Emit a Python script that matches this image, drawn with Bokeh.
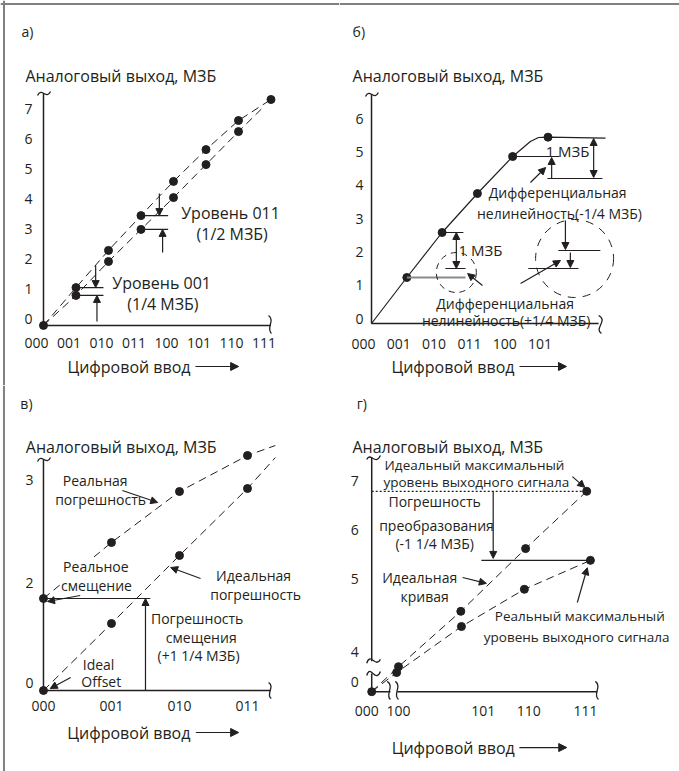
from bokeh.plotting import figure
from bokeh.models import Range1d, FixedTicker, Label, Arrow, NormalHead, ColumnDataSource, Span
from bokeh.transform import dodge
from bokeh.layouts import gridplot
from bokeh.embed import file_html
from bokeh.resources import INLINE

# ---------------- data ----------------
# panel a) - gain error
a_codes = [0, 1, 2, 3, 4, 5, 6, 7]
a_upper_y = [-0.23, 1.03, 2.27, 3.43, 4.57, 5.63, 6.6, 7.3]
a_lower_codes = [0, 1, 2, 3, 4, 5, 6, 6.75]
a_lower_y = [-0.23, 0.77, 1.9, 2.97, 4.03, 5.13, 6.23, 7.03]
a_xticks = [0, 1, 2, 3, 4, 5, 6, 7]
a_xlabels = ["000", "001", "010", "011", "100", "101", "110", "111"]
a_yticks = [0, 1, 2, 3, 4, 5, 6, 7]
a_ylabels = ["0", "1", "2", "3", "4", "5", "6", "7"]

# panel б) - differential nonlinearity
b_codes = [0, 1, 2, 3, 4, 5]
b_y = [-0.15, 1.23, 2.58, 3.75, 4.86, 5.44]
b_curve_codes = [0, 1, 2, 3, 4, 4.5, 4.73, 5, 6.63]
b_curve_y = [-0.15, 1.23, 2.58, 3.75, 4.86, 5.31, 5.43, 5.44, 5.41]
b_xticks = [0, 1, 2, 3, 4, 5]
b_xlabels = ["000", "001", "010", "011", "100", "101"]
b_yticks = [0, 1, 2, 3, 4, 5, 6]
b_ylabels = ["0", "1", "2", "3", "4", "5", "6"]

# panel в) - offset error
c_codes = [0, 1, 2, 3]
c_ideal_y = [-0.16, 1.18, 2.54, 3.88]
c_real_y = [1.68, 2.8, 3.82, 4.54]
c_line_codes = [0, 1, 2, 3, 3.41]
c_ideal_line_y = [-0.16, 1.18, 2.54, 3.88, 4.5]
c_real_line_y = [1.68, 2.8, 3.82, 4.54, 4.74]
c_xticks = [0, 1, 2, 3]
c_xlabels = ["000", "001", "010", "011"]
c_yticks = [0, 2, 4.06]
c_ylabels = ["0", "2", "3"]

# panel г) - full-scale error (broken axes)
d_ideal_x = [3.57, 4.0, 5.0, 6.04, 7.02]
d_ideal_y = [2.69, 3.2, 4.33, 5.61, 6.78]
d_real_x = [3.57, 3.97, 5.01, 6.02, 7.08]
d_real_y = [2.69, 3.08, 4.02, 4.78, 5.37]
d_xticks = [3.49, 4.0, 5.36, 6.09, 7.0]
d_xlabels = ["000", "100", "101", "110", "111"]
d_yticks = [2.88, 3.49, 5, 6, 7]
d_ylabels = ["0", "4", "5", "6", "7"]

# ---------------- styling ----------------
INK = "#231f20"
GRAY = "#8a8a8a"
FRAME = "#808080"
FONT = "Open Sans"
A_DX = 0.215   # offset of the drawn grid from the tick labels (panel a)
B_DX = 0.227   # same for panel б
DASH = "8 5"


def make_fig(width, height, xr, yr, xt, xl, yt, yl, xaxis_at, yaxis_at, xs, ys):
    p = figure(width=width, height=height, x_range=Range1d(*xr), y_range=Range1d(*yr),
               min_border=0, min_border_left=0, min_border_right=0,
               min_border_top=0, min_border_bottom=0,
               output_backend="svg", toolbar_location=None, title=None)
    p.grid.visible = False
    p.outline_line_color = None
    p.background_fill_color = "white"
    p.border_fill_color = "white"
    for ax, ticks, labels, standoff, loc in ((p.xaxis[0], xt, xl, xs, xaxis_at),
                                             (p.yaxis[0], yt, yl, ys, yaxis_at)):
        ax.fixed_location = loc
        ax.ticker = FixedTicker(ticks=list(ticks))
        ax.major_label_overrides = {t: l for t, l in zip(ticks, labels)}
        ax.axis_line_color = None
        ax.major_tick_line_color = None
        ax.minor_tick_line_color = None
        ax.major_tick_out = 0
        ax.major_tick_in = 0
        ax.major_label_standoff = standoff
        ax.major_label_text_font = FONT
        ax.major_label_text_font_size = "14px"
        ax.major_label_text_color = INK
    return p


def txt(p, x, y, text, size, align="left", bg=None):
    p.add_layout(Label(x=x, y=y, text=text, text_font=FONT, text_font_size=f"{size}px",
                       text_align=align, text_baseline="middle", text_color=INK,
                       background_fill_color=bg))


def head(size):
    return NormalHead(size=size, fill_color=INK, line_color=INK, line_width=1)


def arr(p, x0, y0, x1, y1, both=False, size=7):
    p.add_layout(Arrow(x_start=x0, y_start=y0, x_end=x1, y_end=y1,
                       end=head(size), start=head(size) if both else None,
                       line_color=INK, line_width=1.2))


def seg(p, xs, ys, color=INK, width=1.2, dash="solid"):
    p.line(xs, ys, line_color=color, line_width=width, line_dash=dash)


def tilde(p, x0, y0, x1, y1, cx0, cy0, cx1, cy1):
    p.bezier(x0=[x0], y0=[y0], x1=[x1], y1=[y1], cx0=[cx0], cy0=[cy0], cx1=[cx1], cy1=[cy1],
             line_color=INK, line_width=1.3)


def border(p, where, loc):
    dim = "width" if where == "top" else "height"
    p.add_layout(Span(location=loc, dimension=dim, line_color=FRAME, line_width=2))


# ======================= panel a =======================
pa = make_fig(339, 385, (-1.108, 9.323), (-2.233, 10.6),
              a_xticks, a_xlabels, a_yticks, a_ylabels, a_upper_y[0], A_DX, 13, 11)
border(pa, "top", 10.48)
border(pa, "left", -1.0)
src_up = ColumnDataSource(dict(code=a_codes, y=a_upper_y))
src_lo = ColumnDataSource(dict(code=a_lower_codes, y=a_lower_y))
src_lo_dots = ColumnDataSource(dict(code=a_lower_codes[1:7], y=a_lower_y[1:7]))
pa.line(x=dodge("code", A_DX), y="y", source=src_up, line_color=INK, line_width=1, line_dash=DASH)
pa.line(x=dodge("code", A_DX), y="y", source=src_lo, line_color=INK, line_width=1, line_dash=DASH)
seg(pa, [A_DX, A_DX], [a_upper_y[0], 7.5], width=1.5)
seg(pa, [A_DX, 7.2], [a_upper_y[0], a_upper_y[0]], width=1.5)
tilde(pa, 0.031, 7.43, 0.431, 7.57, 0.154, 7.73, 0.308, 7.27)
tilde(pa, 7.14, 0.1, 7.23, -0.5, 7.35, -0.067, 7.05, -0.33)
pa.scatter(x=dodge("code", A_DX), y="y", source=src_up, size=8, color=INK)
pa.scatter(x=dodge("code", A_DX), y="y", source=src_lo_dots, size=8, color=INK)
seg(pa, [1 + A_DX, 2.06], [a_upper_y[1]] * 2)
seg(pa, [1 + A_DX, 2.06], [a_lower_y[1]] * 2)
arr(pa, 1.82, 1.77, 1.82, a_upper_y[1])
arr(pa, 1.86, -0.1, 1.86, a_lower_y[1])
txt(pa, 3.85, 1.17, "Уровень 001", 16, "center")
txt(pa, 3.89, 0.5, "(1/4 МЗБ)", 16, "center")
seg(pa, [3 + A_DX, 4.05], [a_upper_y[3]] * 2)
seg(pa, [3 + A_DX, 4.05], [a_lower_y[3]] * 2)
arr(pa, 3.78, 4.17, 3.78, a_upper_y[3])
arr(pa, 3.88, 2.2, 3.88, a_lower_y[3])
txt(pa, 5.97, 3.53, "Уровень 011", 16, "center")
txt(pa, 6.02, 2.83, "(1/2 МЗБ)", 16, "center")
txt(pa, -0.46, 9.57, "а)", 14)
txt(pa, -0.34, 8.1, "Аналоговый выход, МЗБ", 16)
txt(pa, 0.95, -1.6, "Цифровой ввод", 16)
arr(pa, 4.89, -1.6, 6.22, -1.6, size=8)

# ======================= panel б =======================
pb = make_fig(340, 385, (-0.68, 8.952), (-2.01, 9.54),
              b_xticks, b_xlabels, b_yticks, b_ylabels, b_y[0], B_DX, 15, 8)
border(pb, "top", 9.435)
src_bc = ColumnDataSource(dict(code=b_curve_codes, y=b_curve_y))
seg(pb, [B_DX, B_DX], [b_y[0], 6.72], width=1.5)
seg(pb, [B_DX, 6.66], [b_y[0], b_y[0]], width=1.5)
tilde(pb, 0.057, 6.66, 0.42, 6.78, 0.17, 6.93, 0.31, 6.51)
tilde(pb, 6.66, 0.09, 6.74, -0.45, 6.94, -0.06, 6.52, -0.3)
pb.line(x=dodge("code", B_DX), y="y", source=src_bc, line_color=INK, line_width=1.2)
pb.scatter(x=dodge("code", B_DX), y="y", source=ColumnDataSource(dict(code=b_codes[1:], y=b_y[1:])),
           size=8, color=INK)
seg(pb, [1 + B_DX, 2.89], [b_y[1]] * 2, color=GRAY, width=2)
seg(pb, [2 + B_DX, 2.83], [b_y[2]] * 2)
seg(pb, [2.32, 2.89], [1.5, 1.5])
arr(pb, 2.63, 1.5, 2.63, b_y[2], both=True)
txt(pb, 2.69, 2.07, "1 МЗБ", 15)
pb.scatter([2.63], [1.38], size=40, fill_color=None, line_color=INK, line_width=1, line_dash="6 5")
arr(pb, 3.37, 0.99, 2.95, 1.35)
txt(pb, 4.01, 0.45, "Дифференциальная", 14, "center")
txt(pb, 4.04, -0.06, "нелинейность(+1/4 МЗБ)", 14, "center")
seg(pb, [4 + B_DX, 5.55], [b_y[4]] * 2)
txt(pb, 5.16, 5.04, "1 МЗБ", 15)
arr(pb, 5.33, 4.2, 5.33, 4.83)
seg(pb, [5.21, 6.77], [4.2, 4.2])
arr(pb, 6.52, 4.23, 6.52, 5.4, both=True)
arr(pb, 4.73, 4.08, 5.16, 4.53)
txt(pb, 5.5, 3.78, "Дифференциальная", 14, "center")
txt(pb, 5.55, 3.15, "нелинейность(-1/4 МЗБ)", 14, "center")
pb.scatter([5.98], [1.8], size=78, fill_color=None, line_color=INK, line_width=1, line_dash="8 7")
seg(pb, [5.52, 6.71], [2.04, 2.04])
seg(pb, [4.67, 6.09], [1.5, 1.5])
arr(pb, 5.72, 2.94, 5.72, 2.07)
arr(pb, 5.86, 1.98, 5.86, 1.53)
arr(pb, 4.45, 1.05, 5.58, 1.74)
txt(pb, -0.31, 8.61, "б)", 14)
txt(pb, -0.31, 7.29, "Аналоговый выход, МЗБ", 16)
txt(pb, 0.79, -1.44, "Цифровой ввод", 16)
arr(pb, 4.42, -1.44, 5.75, -1.44, size=8)

# ======================= panel в =======================
pc = make_fig(339, 386, (-0.632, 4.353), (-1.78, 5.94),
              c_xticks, c_xlabels, c_yticks, c_ylabels, c_ideal_y[0], 0, 10, 10)
border(pc, "left", -0.581)
seg(pc, [0, 0], [c_ideal_y[0], 4.46], width=1.5)
seg(pc, [0, 3.34], [c_ideal_y[0], c_ideal_y[0]], width=1.5)
tilde(pc, -0.088, 4.42, 0.103, 4.5, -0.03, 4.6, 0.044, 4.32)
tilde(pc, 3.31, 0.0, 3.35, -0.32, 3.41, -0.08, 3.26, -0.24)
pc.line(c_line_codes, c_real_line_y, line_color=INK, line_width=1, line_dash=DASH)
pc.line(c_line_codes, c_ideal_line_y, line_color=INK, line_width=1, line_dash=DASH)
seg(pc, [0, 1.57], [c_real_y[0]] * 2)
arr(pc, 1.5, c_ideal_y[0], 1.5, c_real_y[0])
pc.scatter(c_codes, c_real_y, size=8, color=INK)
pc.scatter(c_codes, c_ideal_y, size=8, color=INK)
txt(pc, 0.76, 4.04, "Реальная", 14, "center")
txt(pc, 0.84, 3.66, "погрешность", 14, "center")
arr(pc, 1.16, 3.84, 1.68, 3.6)
txt(pc, 0.77, 2.32, "Реальное", 14, "center", bg="white")
txt(pc, 0.78, 1.94, "смещение", 14, "center", bg="white")
arr(pc, 0.54, 1.74, 0.06, 1.62)
txt(pc, 3.09, 2.14, "Идеальная", 14, "center")
txt(pc, 3.12, 1.76, "погрешность", 14, "center")
arr(pc, 2.31, 2.08, 1.87, 2.3)
txt(pc, 2.26, 1.28, "Погрешность", 14, "center")
txt(pc, 2.32, 0.9, "смещения", 14, "center")
txt(pc, 2.28, 0.54, "(+1 1/4 МЗБ)", 14, "center")
txt(pc, 0.81, 0.36, "Ideal", 14, "center")
txt(pc, 0.85, 0.02, "Offset", 14, "center")
arr(pc, 0.4, 0.1, 0.1, -0.12)
txt(pc, -0.34, 5.58, "в)", 14)
txt(pc, -0.26, 4.72, "Аналоговый выход, МЗБ", 16)
txt(pc, 0.35, -1.0, "Цифровой ввод", 16)
arr(pc, 2.24, -1.0, 2.87, -1.0, size=8)

# ======================= panel г =======================
pd_ = make_fig(340, 386, (3.053, 8.51), (1.061, 8.939),
               d_xticks, d_xlabels, d_yticks, d_ylabels, d_ideal_y[0], d_ideal_x[0], 14, 13)
x0, y0 = d_ideal_x[0], d_ideal_y[0]
seg(pd_, [x0, x0], [y0, 3.06], width=1.5)
seg(pd_, [x0, x0], [3.31, 7.47], width=1.5)
seg(pd_, [x0, 3.87], [y0, y0], width=1.5)
seg(pd_, [3.98, 7.19], [y0, y0], width=1.5)
tilde(pd_, 3.49, 7.43, 3.71, 7.51, 3.55, 7.59, 3.63, 7.29)
tilde(pd_, 3.49, 3.27, 3.71, 3.35, 3.55, 3.51, 3.63, 3.16)
tilde(pd_, 3.49, 3.02, 3.71, 3.1, 3.55, 3.27, 3.63, 2.85)
tilde(pd_, 3.82, 2.9, 3.87, 2.53, 3.94, 2.8, 3.78, 2.63)
tilde(pd_, 3.95, 2.9, 4.0, 2.53, 4.06, 2.8, 3.9, 2.63)
tilde(pd_, 7.16, 2.9, 7.21, 2.53, 7.27, 2.8, 7.11, 2.63)
pd_.line(d_ideal_x, d_ideal_y, line_color=INK, line_width=1, line_dash=DASH)
pd_.line(d_real_x, d_real_y, line_color=INK, line_width=1, line_dash=DASH)
seg(pd_, [x0, d_ideal_x[-1]], [d_ideal_y[-1]] * 2, width=1.2, dash="2 2")
seg(pd_, [5.33, d_real_x[-1]], [d_real_y[-1]] * 2)
arr(pd_, 5.52, d_ideal_y[-1], 5.52, 5.41)
pd_.scatter(d_ideal_x, d_ideal_y, size=8, color=INK)
pd_.scatter(d_real_x[1:], d_real_y[1:], size=8, color=INK)
txt(pd_, 5.22, 7.31, "Идеальный максимальный", 13.5, "center")
txt(pd_, 5.25, 6.96, "уровень выходного сигнала", 13.5, "center")
arr(pd_, 6.79, 7.08, 6.99, 6.86)
txt(pd_, 4.58, 6.57, "Погрешность", 14, "center")
txt(pd_, 4.61, 6.08, "преобразования", 14, "center")
txt(pd_, 4.58, 5.71, "(-1 1/4 МЗБ)", 14, "center")
txt(pd_, 4.34, 5.02, "Идеальная", 14, "center")
txt(pd_, 4.42, 4.63, "кривая", 14, "center")
arr(pd_, 5.03, 5.02, 5.41, 4.9)
txt(pd_, 6.91, 4.24, "Реальный максимальный", 13.5, "center")
txt(pd_, 6.86, 3.8, "уровень выходного сигнала", 13.5, "center")
arr(pd_, 6.87, 4.51, 7.03, 5.22)
txt(pd_, 3.33, 8.57, "г)", 14)
txt(pd_, 3.26, 7.69, "Аналоговый выход, МЗБ", 16)
txt(pd_, 3.89, 1.55, "Цифровой ввод", 16)
arr(pd_, 5.94, 1.55, 6.7, 1.55, size=8)

grid = gridplot([[pa, pb], [pc, pd_]], toolbar_location=None)

open("out.html", "w").write(file_html(grid, INLINE, title="ЦАП: погрешности"))
